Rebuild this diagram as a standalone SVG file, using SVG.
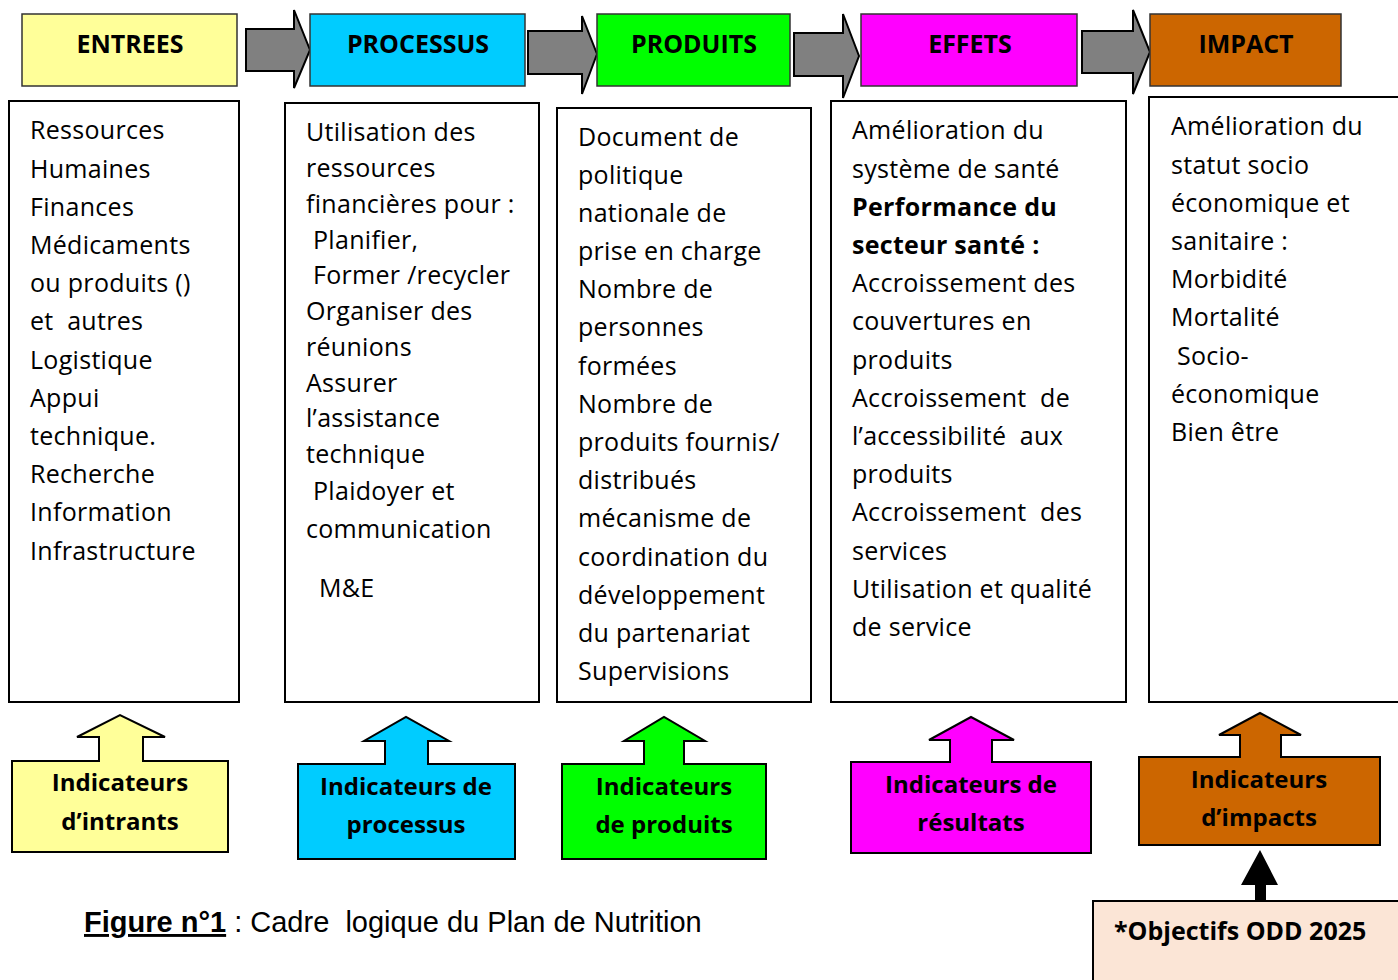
<svg xmlns="http://www.w3.org/2000/svg" width="1398" height="980" viewBox="0 0 1398 980">
<style>
.hdr{stroke:#333;stroke-width:1.5}
.ht{font-family:"Open Sans",sans-serif;font-weight:bold;font-size:25px;text-anchor:middle;fill:#000}
.box{fill:#fff;stroke:#000;stroke-width:2}
.bt{font-family:"Open Sans",sans-serif;font-size:25px;letter-spacing:0.3px;fill:#000}
.b{font-weight:bold}
.ind{stroke:#000;stroke-width:2}
.it{font-family:"Open Sans",sans-serif;font-weight:bold;font-size:24px;text-anchor:middle;fill:#000}
.ga{fill:#808080;stroke:#000;stroke-width:2}
</style>
<rect width="1398" height="980" fill="#fff"/>
<g id="connectors">
<path class="ga" d="M246,29 H294 V10 L310,50 L294,88 V71 H246 Z"/>
<path class="ga" d="M528,31 H582 V16 L597,54 L582,94 V74 H528 Z"/>
<path class="ga" d="M794,33 H843 V14 L859,56 L843,98 V76 H794 Z"/>
<path class="ga" d="M1082,31 H1133 V10 L1150,52 L1133,94 V73 H1082 Z"/>
<path d="M1255,901 V885 H1241 L1260,850 L1278,885 H1266 V901 Z" fill="#000"/>
</g>
<g id="entrees">
<rect class="hdr" x="22" y="14" width="215" height="72" fill="#FFFF99"/>
<text class="ht" x="130" y="53">ENTREES</text>
</g>
<g id="processus">
<rect class="hdr" x="310" y="14" width="215" height="72" fill="#00CCFF"/>
<text class="ht" x="418" y="53">PROCESSUS</text>
</g>
<g id="produits">
<rect class="hdr" x="597" y="14" width="193" height="72" fill="#00FF00"/>
<text class="ht" x="694" y="53">PRODUITS</text>
</g>
<g id="effets">
<rect class="hdr" x="861" y="14" width="216" height="72" fill="#FF00FF"/>
<text class="ht" x="970" y="53">EFFETS</text>
</g>
<g id="impact">
<rect class="hdr" x="1150" y="14" width="191" height="72" fill="#CC6600"/>
<text class="ht" x="1246" y="53">IMPACT</text>
</g>
<g id="box-entrees">
<rect class="box" x="9" y="101" width="230" height="601"/>
<text class="bt" xml:space="preserve"><tspan x="30" y="139">Ressources</tspan><tspan x="30" y="178">Humaines</tspan><tspan x="30" y="216">Finances</tspan><tspan x="30" y="254">Médicaments</tspan><tspan x="30" y="292">ou produits ()</tspan><tspan x="30" y="330">et  autres</tspan><tspan x="30" y="369">Logistique</tspan><tspan x="30" y="407">Appui</tspan><tspan x="30" y="445">technique.</tspan><tspan x="30" y="483">Recherche</tspan><tspan x="30" y="521">Information</tspan><tspan x="30" y="560">Infrastructure</tspan></text>
</g>
<g id="box-processus">
<rect class="box" x="285" y="103" width="254" height="599"/>
<text class="bt" xml:space="preserve"><tspan x="306" y="141">Utilisation des</tspan><tspan x="306" y="177">ressources</tspan><tspan x="306" y="213">financières pour :</tspan><tspan x="313" y="249">Planifier,</tspan><tspan x="313" y="284">Former /recycler</tspan><tspan x="306" y="320">Organiser des</tspan><tspan x="306" y="356">réunions</tspan><tspan x="306" y="392">Assurer</tspan><tspan x="306" y="427">l’assistance</tspan><tspan x="306" y="463">technique</tspan><tspan x="313" y="500">Plaidoyer et</tspan><tspan x="306" y="538">communication</tspan><tspan x="319" y="597">M&amp;E</tspan></text>
</g>
<g id="box-produits">
<rect class="box" x="557" y="108" width="254" height="594"/>
<text class="bt" xml:space="preserve"><tspan x="578" y="146">Document de</tspan><tspan x="578" y="184">politique</tspan><tspan x="578" y="222">nationale de</tspan><tspan x="578" y="260">prise en charge</tspan><tspan x="578" y="298">Nombre de</tspan><tspan x="578" y="336">personnes</tspan><tspan x="578" y="375">formées</tspan><tspan x="578" y="413">Nombre de</tspan><tspan x="578" y="451">produits fournis/</tspan><tspan x="578" y="489">distribués</tspan><tspan x="578" y="527">mécanisme de</tspan><tspan x="578" y="566">coordination du</tspan><tspan x="578" y="604">développement</tspan><tspan x="578" y="642">du partenariat</tspan><tspan x="578" y="680">Supervisions</tspan></text>
</g>
<g id="box-effets">
<rect class="box" x="831" y="101" width="295" height="601"/>
<text class="bt" xml:space="preserve"><tspan x="852" y="139">Amélioration du</tspan><tspan x="852" y="178">système de santé</tspan><tspan x="852" y="216" class="b">Performance du</tspan><tspan x="852" y="254" class="b">secteur santé :</tspan><tspan x="852" y="292">Accroissement des</tspan><tspan x="852" y="330">couvertures en</tspan><tspan x="852" y="369">produits</tspan><tspan x="852" y="407">Accroissement  de</tspan><tspan x="852" y="445">l’accessibilité  aux</tspan><tspan x="852" y="483">produits</tspan><tspan x="852" y="521">Accroissement  des</tspan><tspan x="852" y="560">services</tspan><tspan x="852" y="598">Utilisation et qualité</tspan><tspan x="852" y="636">de service</tspan></text>
</g>
<g id="box-impact">
<rect class="box" x="1149" y="97" width="260" height="605"/>
<text class="bt" xml:space="preserve"><tspan x="1171" y="135">Amélioration du</tspan><tspan x="1171" y="174">statut socio</tspan><tspan x="1171" y="212">économique et</tspan><tspan x="1171" y="250">sanitaire :</tspan><tspan x="1171" y="288">Morbidité</tspan><tspan x="1171" y="326">Mortalité</tspan><tspan x="1177" y="365">Socio-</tspan><tspan x="1171" y="403">économique</tspan><tspan x="1171" y="441">Bien être</tspan></text>
</g>
<g id="ind-intrants">
<path class="ind" fill="#FFFF99" d="M12,761 H99 V737 H77 L120,715 L165,737 H143 V761 H228 V852 H12 Z"/>
<text class="it"><tspan x="120" y="791">Indicateurs</tspan><tspan x="120" y="830">d’intrants</tspan></text>
</g>
<g id="ind-processus">
<path class="ind" fill="#00CCFF" d="M298,764 H385 V741 H364 L406,717 L449,741 H428 V764 H515 V859 H298 Z"/>
<text class="it"><tspan x="406" y="795">Indicateurs de</tspan><tspan x="406" y="833">processus</tspan></text>
</g>
<g id="ind-produits">
<path class="ind" fill="#00FF00" d="M562,764 H644 V741 H624 L664,717 L705,741 H684 V764 H766 V859 H562 Z"/>
<text class="it"><tspan x="664" y="795">Indicateurs</tspan><tspan x="664" y="833">de produits</tspan></text>
</g>
<g id="ind-resultats">
<path class="ind" fill="#FF00FF" d="M851,762 H950 V740 H929 L971,717 L1014,740 H992 V762 H1091 V853 H851 Z"/>
<text class="it"><tspan x="971" y="793">Indicateurs de</tspan><tspan x="971" y="831">résultats</tspan></text>
</g>
<g id="ind-impacts">
<path class="ind" fill="#CC6600" d="M1139,757 H1240 V735 H1219 L1260,713 L1301,735 H1281 V757 H1380 V845 H1139 Z"/>
<text class="it"><tspan x="1259" y="788">Indicateurs</tspan><tspan x="1259" y="826">d’impacts</tspan></text>
</g>
<g id="odd">
<rect x="1093" y="901" width="320" height="90" fill="#FBE5D6" stroke="#000" stroke-width="2"/>
<text class="it" x="1114" y="940" style="text-anchor:start;font-size:25px">*Objectifs ODD 2025</text>
</g>
<g id="caption">
<text x="84" y="932" font-family="Liberation Sans, Arial, sans-serif" font-size="29" fill="#000" xml:space="preserve"><tspan font-weight="bold" text-decoration="underline">Figure n°1</tspan> : Cadre  logique du Plan de Nutrition</text>
</g>
</svg>
